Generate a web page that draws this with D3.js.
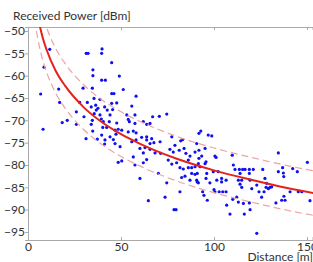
<!DOCTYPE html>
<html>
<head>
<meta charset="utf-8">
<script src="https://cdn.jsdelivr.net/npm/d3@7"></script>
<style>
  body { margin: 0; background: #fff; }
  .tick text { font-family: Lato, "Open Sans", sans-serif; font-size: 12px; fill: #333; }
  .aText { font-family: Lato, "Open Sans", sans-serif; font-size: 12px; fill: #333; }
</style>
</head>
<body>
<div id="chart"></div>
<script>
// measured points (distance in m, received power in dBm)
var distances = [6.8, 8.1, 8.6, 11.7, 16.5, 17.0, 18.4, 21.1, 26.0, 27.8, 26.0, 29.6, 31.3, 32.3, 34.9, 34.9,
  34.6, 31.9, 34.0, 36.4, 35.5, 36.7, 37.6, 34.6, 34.0, 30.1, 31.2, 34.8, 37.3, 39.6, 39.8, 39.6,
  41.6, 38.7, 38.7, 39.4, 40.5, 41.2, 42.6, 45.0, 45.0, 46.2, 49.1, 45.0, 47.7, 45.5, 44.1, 43.7,
  47.7, 40.2, 42.3, 46.8, 48.5, 50.4, 41.4, 44.1, 45.9, 47.3, 39.6, 41.2, 46.8, 49.5, 48.5, 50.4,
  55.8, 58.1, 51.2, 53.1, 57.5, 53.9, 54.5, 57.5, 62.0, 65.6, 67.0, 70.6, 74.6, 53.9, 56.6, 58.1,
  55.8, 58.1, 63.8, 65.6, 67.7, 71.0, 60.2, 62.9, 65.6, 56.6, 62.0, 68.3, 71.3, 57.5, 62.0, 63.8,
  60.2, 64.7, 70.1, 77.3, 79.0, 82.1, 83.2, 76.3, 78.1, 81.3, 83.9, 84.9, 87.1, 86.2, 75.4, 77.3,
  79.9, 81.7, 83.5, 86.2, 88.0, 89.8, 91.9, 90.7, 91.9, 91.9, 74.6, 82.6, 84.4, 89.8, 90.7, 87.1,
  81.7, 73.7, 78.5, 79.6, 61.1, 63.8, 66.5, 63.8, 35.6, 92.9, 96.9, 98.8, 89.8, 95.2, 91.6, 92.5,
  95.2, 95.7, 93.4, 100.5, 101.1, 102.3, 88.0, 91.0, 91.0, 91.6, 96.1, 95.7, 97.8, 99.6, 101.5, 104.1,
  104.1, 106.5, 93.9, 94.6, 96.4, 100.5, 100.0, 102.8, 104.7, 106.5, 106.8, 108.6, 109.8, 110.4, 111.3, 113.6,
  115.4, 114.0, 113.1, 114.9, 114.0, 114.9, 110.1, 113.1, 112.2, 115.8, 119.0, 119.4, 116.3, 116.7, 119.0, 121.1,
  126.2, 119.0, 119.4, 120.3, 123.0, 123.0, 125.6, 127.4, 128.3, 128.0, 129.2, 130.1, 131.0, 126.9, 133.3, 136.4,
  137.6, 138.2, 134.6, 134.6, 136.9, 137.3, 140.9, 145.3, 142.3, 144.8, 150.2, 147.2, 151.6, 137.5, 124.2];

var powers = [-64.1, -72.0, -58.1, -54.1, -63.0, -66.0, -70.5, -70.0, -68.1, -66.0, -70.9, -62.8, -55.0, -55.0, -58.7, -60.0,
  -62.8, -66.0, -67.0, -66.6, -65.1, -67.7, -67.3, -70.0, -70.9, -69.2, -74.1, -72.4, -74.2, -55.0, -54.0, -61.0,
  -61.0, -65.3, -68.8, -69.7, -70.3, -67.0, -67.7, -57.1, -64.0, -64.0, -60.1, -66.2, -66.1, -67.6, -68.8, -70.3,
  -70.6, -71.6, -71.6, -72.2, -72.0, -72.2, -74.4, -73.7, -74.3, -73.1, -73.3, -75.3, -75.2, -75.9, -79.4, -79.1,
  -66.8, -64.6, -63.1, -68.8, -68.8, -69.8, -70.3, -70.7, -70.3, -70.7, -69.2, -69.1, -68.6, -72.6, -72.4, -72.8,
  -74.8, -74.4, -74.4, -75.2, -75.0, -74.8, -76.3, -76.1, -76.5, -78.2, -77.3, -77.3, -77.4, -80.0, -79.5, -78.8,
  -83.0, -88.0, -81.9, -73.7, -75.6, -74.6, -74.3, -76.5, -77.1, -76.7, -76.3, -77.4, -78.0, -78.9, -78.9, -79.8,
  -79.5, -80.6, -80.9, -80.6, -80.6, -80.4, -72.9, -75.2, -76.7, -78.5, -84.0, -82.8, -82.5, -82.1, -83.4, -83.4,
  -86.0, -87.2, -90.0, -90.0, -73.8, -73.7, -74.1, -70.9, -68.5, -72.4, -73.3, -73.5, -77.1, -76.3, -79.7, -80.4,
  -79.7, -79.3, -78.0, -78.0, -78.3, -81.5, -81.9, -81.9, -83.8, -84.0, -81.9, -83.0, -84.0, -81.5, -83.4, -83.0,
  -83.8, -83.4, -86.0, -86.8, -87.9, -86.0, -85.5, -86.0, -86.0, -86.0, -89.0, -91.0, -77.8, -80.0, -81.0, -81.0,
  -81.0, -81.9, -83.4, -83.4, -84.3, -85.0, -87.7, -88.3, -87.2, -88.6, -88.5, -90.0, -91.0, -81.0, -81.0, -81.0,
  -81.0, -81.9, -83.4, -85.3, -84.5, -95.3, -87.2, -83.0, -84.1, -85.0, -85.3, -85.0, -84.9, -86.0, -88.5, -87.9,
  -87.0, -87.9, -77.3, -81.5, -80.6, -81.8, -86.0, -86.0, -80.8, -81.5, -79.4, -86.0, -88.0, -82.6, -86.0];

// fitted path loss curve and its +/- band
var fitDist = [3, 4, 6, 8, 10, 15, 20, 30, 40, 50, 60, 80, 100, 120, 140, 155];
var fitPower = [-40.1, -43.5, -48.2, -51.6, -54.2, -59.0, -62.3, -67.1, -70.5, -73.1, -75.2, -78.6, -81.2, -83.3, -85.2, -86.4];
var upperPower = [-35.1, -38.5, -43.2, -46.6, -49.2, -54.0, -57.3, -62.1, -65.5, -68.1, -70.2, -73.6, -76.2, -78.3, -80.2, -81.4];
var lowerPower = [-45.1, -48.5, -53.2, -56.6, -59.2, -64.0, -67.3, -72.1, -75.5, -78.1, -80.2, -83.6, -86.2, -88.3, -90.2, -91.4];

// tick labels
var xTicks = [0, 50, 100, 150];
var yTicks = [-50, -55, -60, -65, -70, -75, -80, -85, -90, -95];

var width = 313;
var height = 262;
var plotLeft = 28, plotTop = 27, plotBottom = 240;

var svg = d3
    .select("#chart")
    .append("svg")
    .attr("width", width)
    .attr("height", height);

var xScale = d3.scaleLinear().domain([0, 153]).range([plotLeft, plotLeft + 153 * 1.86]);
var yScale = d3.scaleLinear().domain([-96.8, -49.1]).range([plotBottom, plotTop]);

// clip so the curves stop at the frame
svg.append("clipPath").attr("id", "plotClip")
    .append("rect")
    .attr("x", plotLeft).attr("y", plotTop)
    .attr("width", width - plotLeft).attr("height", plotBottom - plotTop);

// frame top line
var topAxis = svg.append("g")
    .attr("transform", "translate(0," + plotTop + ")")
    .call(d3.axisTop(xScale).tickValues(xTicks).tickSize(-3).tickFormat(""));
topAxis.select(".domain").attr("stroke", "#aaa");
topAxis.selectAll(".tick line").attr("stroke", "#aaa");

// x axis
var xAxis = svg.append("g")
    .attr("transform", "translate(0," + plotBottom + ")")
    .call(d3.axisBottom(xScale).tickValues(xTicks).tickSize(-3).tickPadding(2).tickFormat(d3.format("d")));
xAxis.select(".domain").attr("stroke", "#aaa");
xAxis.selectAll(".tick line").attr("stroke", "#aaa");

// y axis
var yAxis = svg.append("g")
    .attr("transform", "translate(" + plotLeft + ",0)")
    .call(d3.axisLeft(yScale).tickValues(yTicks).tickSize(3).tickPadding(0).tickFormat(d3.format("d")));
yAxis.select(".domain").attr("stroke", "#aaa");
yAxis.selectAll(".tick line").attr("stroke", "#aaa");

// axis titles
svg.append("text")
    .attr("class", "aText")
    .attr("x", 13)
    .attr("y", 20)
    .text("Received Power [dBm]");

svg.append("text")
    .attr("class", "aText")
    .attr("x", 313)
    .attr("y", 261)
    .attr("text-anchor", "end")
    .text("Distance [m]");

// points
var dots = distances.map(function(d, i) { return { d: d, p: powers[i] }; });

svg.append("g")
    .attr("clip-path", "url(#plotClip)")
    .selectAll("circle")
    .data(dots)
    .enter()
    .append("circle")
    .attr("cx", function(d) { return xScale(d.d); })
    .attr("cy", function(d) { return yScale(d.p); })
    .attr("r", 1.6)
    .attr("fill", "#1010ee");

// curves
var line = d3.line()
    .x(function(d) { return xScale(d[0]); })
    .y(function(d) { return yScale(d[1]); })
    .curve(d3.curveMonotoneX);

var curves = svg.append("g").attr("clip-path", "url(#plotClip)");

[upperPower, lowerPower].forEach(function(arr) {
  curves.append("path")
      .datum(fitDist.map(function(d, i) { return [d, arr[i]]; }))
      .attr("d", line)
      .attr("fill", "none")
      .attr("stroke", "#eea3a3")
      .attr("stroke-width", 1.2)
      .attr("stroke-dasharray", "7,4");
});

curves.append("path")
    .datum(fitDist.map(function(d, i) { return [d, fitPower[i]]; }))
    .attr("d", line)
    .attr("fill", "none")
    .attr("stroke", "#e3231c")
    .attr("stroke-width", 2);
</script>
</body>
</html>
